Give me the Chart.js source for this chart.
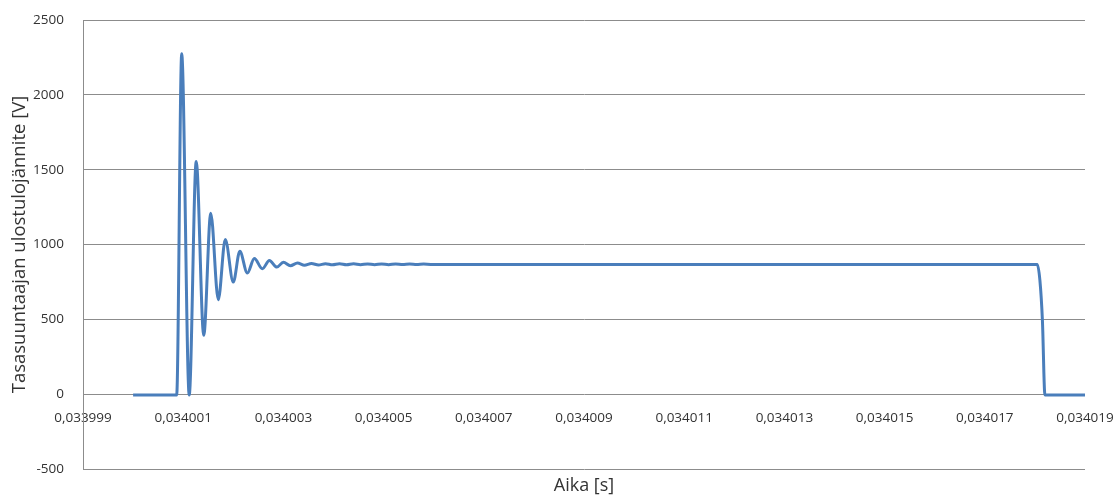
<!DOCTYPE html>
<html>
<head>
<meta charset="utf-8">
<script src="https://cdn.jsdelivr.net/npm/chart.js@4/dist/chart.umd.min.js"></script>
<style>
  html, body { margin: 0; padding: 0; background: #ffffff; }
  #wrap { width: 1118px; height: 497px; }
</style>
</head>
<body>
<div id="wrap"><canvas id="chart" width="1118" height="497"></canvas></div>
<script>
// Rectifier output voltage during one switching pulse
const timeS = [
  0.034000, 0.03400087, 0.03400097, 0.03400112, 0.03400126, 0.03400141,
  0.03400155, 0.0340017, 0.03400184, 0.034002, 0.03400213, 0.03400228,
  0.03400242, 0.03400258, 0.03400272, 0.03400287, 0.034003, 0.03400314,
  0.03400328, 0.03400342, 0.03400356, 0.0340037, 0.03400384, 0.03400398,
  0.03400412, 0.03400426, 0.0340044, 0.03400454, 0.03400468, 0.03400482,
  0.03400496, 0.0340051, 0.03400524, 0.03400538, 0.03400552, 0.03400566,
  0.0340058, 0.03400594, 0.034018047, 0.0340181, 0.03401815, 0.0340182,
  0.034019
];
const voltageV = [
  -5, -5, 2275, -5, 1555, 393,
  1209, 631, 1033, 749, 955, 809,
  907, 838, 893, 849, 882, 858,
  876, 862, 873, 863, 872, 864,
  871, 864, 871, 865, 870, 865,
  870, 865, 870, 866, 869, 866,
  869, 867, 867, 760, 493, -5,
  -5
];
const xTickValues = [
  0.033999, 0.034001, 0.034003, 0.034005, 0.034007, 0.034009,
  0.034011, 0.034013, 0.034015, 0.034017, 0.034019
];
const yTickValues = [-500, 0, 500, 1000, 1500, 2000, 2500];

const xTitle = 'Aika [s]';
const yTitle = 'Tasasuuntaajan ulostulojännite [V]';

const textColor = '#333333';
const gridColor = '#8c8c8c';
const fontFamily = "'Open Sans', 'Liberation Sans', sans-serif";

const points = timeS.map((t, i) => ({ x: t, y: voltageV[i] }));

// draws the horizontal axis title below the plot
const bottomTitle = {
  id: 'bottomTitle',
  afterDraw(chart) {
    const ctx = chart.ctx;
    const area = chart.chartArea;
    ctx.save();
    ctx.font = '18px ' + fontFamily;
    ctx.fillStyle = textColor;
    ctx.textAlign = 'center';
    ctx.textBaseline = 'middle';
    ctx.fillText(xTitle, (area.left + area.right) / 2, area.bottom + 17);
    ctx.restore();
  }
};

new Chart(document.getElementById('chart'), {
  type: 'line',
  data: {
    datasets: [{
      data: points,
      borderColor: '#4a7ebb',
      borderWidth: 3,
      pointRadius: 0,
      cubicInterpolationMode: 'monotone',
      fill: false
    }]
  },
  options: {
    responsive: false,
    animation: false,
    layout: { padding: { left: 0, top: 20, right: 33, bottom: 28 } },
    plugins: {
      legend: { display: false },
      tooltip: { enabled: false }
    },
    scales: {
      x: {
        type: 'linear',
        min: 0.033999,
        max: 0.034019,
        position: { y: 0 },
        grid: { display: false, drawTicks: false },
        border: { display: false },
        afterFit(scale) {
          scale.height = 0;
          scale.paddingLeft = 0;
          scale.paddingRight = 0;
        },
        afterBuildTicks(scale) {
          scale.ticks = xTickValues.map(v => ({ value: v }));
        },
        ticks: {
          autoSkip: false,
          maxRotation: 0,
          padding: 16,
          color: textColor,
          font: { family: fontFamily, size: 13.5 },
          callback: v => v.toFixed(6).replace('.', ',')
        }
      },
      y: {
        type: 'linear',
        min: -500,
        max: 2500,
        afterFit(scale) {
          scale.width = 83;
          scale.paddingTop = 0;
          scale.paddingBottom = 0;
        },
        afterBuildTicks(scale) {
          scale.ticks = yTickValues.map(v => ({ value: v }));
        },
        grid: { color: gridColor, lineWidth: 1, drawTicks: false },
        border: { color: gridColor, width: 1 },
        ticks: {
          padding: 19,
          color: textColor,
          font: { family: fontFamily, size: 13.5 },
          callback: v => String(v)
        },
        title: {
          display: true,
          text: yTitle,
          color: textColor,
          font: { family: fontFamily, size: 18.5 },
          padding: { top: 9, bottom: 0 }
        }
      }
    }
  },
  plugins: [bottomTitle]
});
</script>
</body>
</html>
